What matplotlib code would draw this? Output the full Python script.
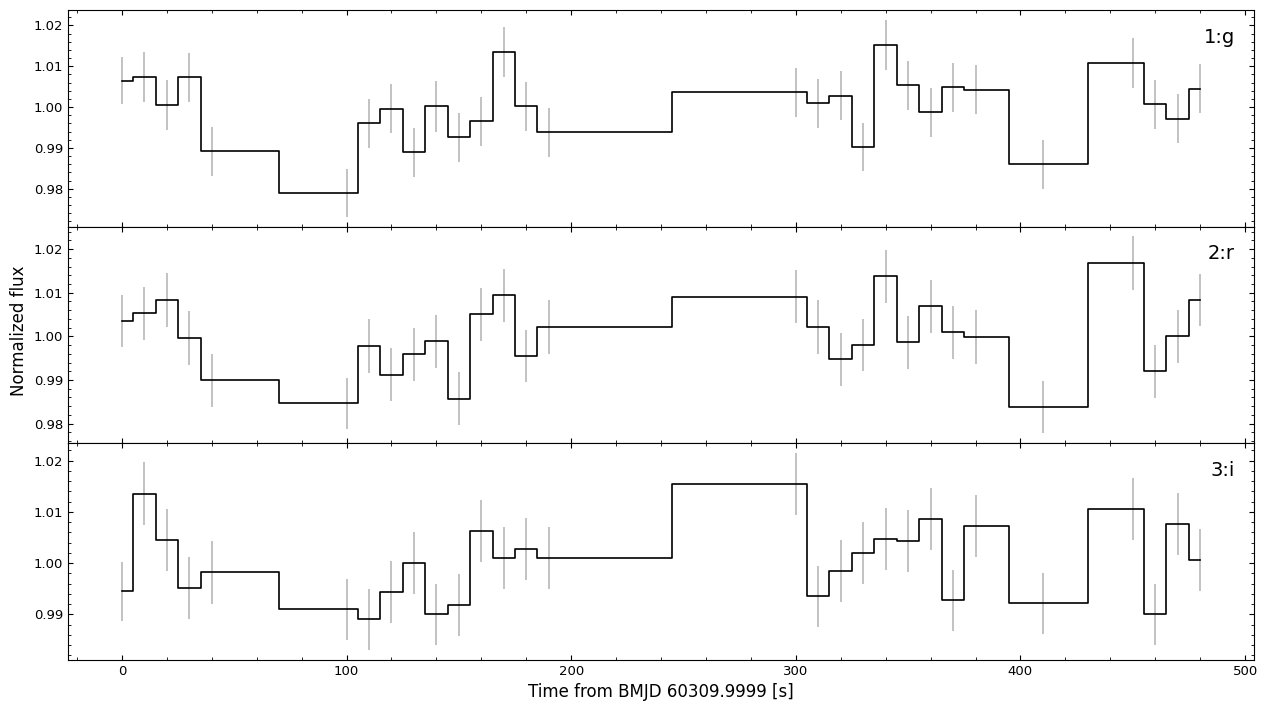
import matplotlib
matplotlib.use("Agg")
import matplotlib.pyplot as plt
import numpy as np

time = [0, 10, 20, 30, 40, 100, 110, 120, 130, 140, 150, 160, 170, 180, 190,
        300, 310, 320, 330, 340, 350, 360, 370, 380, 410, 450, 460, 470, 480]

flux_g = [1.00645, 1.00736, 1.00047, 1.00736, 0.98914, 0.97904, 0.99603, 0.99956,
          0.98889, 1.00022, 0.99266, 0.99653, 1.01352, 1.00022, 0.99382,
          1.00367, 1.00096, 1.00283, 0.99020, 1.01528, 1.00540, 0.99874, 1.00490,
          1.00424, 0.98600, 1.01089, 1.00071, 0.99710, 1.00448]
err_g = [0.0058, 0.0062, 0.0061, 0.0060, 0.0060, 0.0059, 0.0060, 0.0060, 0.0060,
         0.0062, 0.0060, 0.0060, 0.0062, 0.0060, 0.0060, 0.0060, 0.0060, 0.0060,
         0.0059, 0.0061, 0.0060, 0.0060, 0.0060, 0.0060, 0.0060, 0.0061, 0.0060,
         0.0060, 0.0060]

flux_r = [1.00352, 1.00528, 1.00834, 0.99961, 0.98989, 0.98467, 0.99770, 0.99126,
          0.99586, 0.99885, 0.98575, 1.00506, 1.00943, 0.99547, 1.00214,
          1.00910, 1.00214, 0.99471, 0.99800, 1.01379, 0.99862, 1.00690, 1.00092,
          0.99984, 0.98375, 1.01678, 0.99195, 1.00000, 1.00834]
err_r = [0.0059, 0.0061, 0.0061, 0.0061, 0.0060, 0.0059, 0.0062, 0.0060, 0.0060,
         0.0060, 0.0060, 0.0061, 0.0061, 0.0060, 0.0061, 0.0060, 0.0061, 0.0060,
         0.0060, 0.0061, 0.0060, 0.0061, 0.0060, 0.0061, 0.0060, 0.0061, 0.0060,
         0.0061, 0.0060]

flux_i = [0.99452, 1.01356, 1.00450, 0.99517, 0.99824, 0.99100, 0.98904, 0.99438,
          1.00000, 0.99002, 0.99184, 1.00632, 1.00098, 1.00280, 1.00098,
          1.01546, 0.99354, 0.99846, 1.00199, 1.00470, 1.00436, 1.00861, 0.99276,
          1.00724, 0.99217, 1.01057, 0.99002, 1.00763, 1.00065]
err_i = [0.0058, 0.0061, 0.0061, 0.0060, 0.0061, 0.0060, 0.0060, 0.0061, 0.0061,
         0.0060, 0.0060, 0.0061, 0.0061, 0.0061, 0.0061, 0.0060, 0.0060, 0.0060,
         0.0061, 0.0060, 0.0061, 0.0060, 0.0060, 0.0061, 0.0060, 0.0061, 0.0060,
         0.0061, 0.0061]

band_labels = ["1:g", "2:r", "3:i"]
fluxes = [flux_g, flux_r, flux_i]
errors = [err_g, err_r, err_i]

fig, axes = plt.subplots(3, 1, sharex=True, figsize=(12.68, 7.10), dpi=100)
fig.subplots_adjust(left=0.0536, right=0.989, top=0.986, bottom=0.0704, hspace=0)

for ax, f, e, lab in zip(axes, fluxes, errors, band_labels):
    ax.errorbar(time, f, yerr=e, fmt='none', ecolor='#bdbdbd', elinewidth=1.3, zorder=1)
    ax.plot(time, f, drawstyle='steps-mid', color='black', lw=1.2, zorder=2)
    ax.minorticks_on()
    ax.tick_params(which='both', direction='in', top=True, right=True, labelsize=9.5)
    ax.text(0.984, 0.875, lab, transform=ax.transAxes, ha='right', va='center', fontsize=14)

axes[-1].set_xlabel("Time from BMJD 60309.9999 [s]", fontsize=12)
axes[1].set_ylabel("Normalized flux", fontsize=12, y=0.52)

fig.savefig("out.png", dpi=100)
